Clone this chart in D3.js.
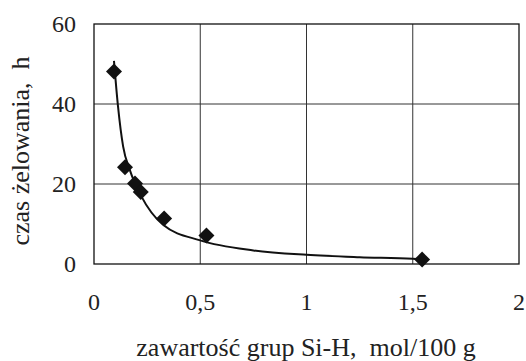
<!DOCTYPE html>
<html>
<head>
<meta charset="utf-8">
<script src="https://cdn.jsdelivr.net/npm/d3@7"></script>
<style>
  body { margin: 0; background: #fff; }
  text { fill: #222; white-space: pre; }
</style>
</head>
<body>
<script>
// punkty pomiarowe
var siH = [0.094, 0.146, 0.193, 0.22, 0.33, 0.529, 1.544];
var gelTime = [48.1, 24.2, 20.1, 18.0, 11.4, 7.1, 1.1];

// linia trendu
var trendX = [0.094, 0.113, 0.137, 0.168, 0.223, 0.325, 0.5, 0.75, 1.0, 1.25, 1.5, 1.544];
var trendY = [50.8, 39.4, 29.4, 23.6, 16.9, 9.8, 5.9, 3.4, 2.3, 1.7, 1.3, 1.1];

var xTicks = [0, 0.5, 1, 1.5, 2];
var yTicks = [0, 20, 40, 60];

var width = 526, height = 361;
var margin = {left: 94, right: 7, top: 24, bottom: 97};

var pl = d3.formatLocale({decimal: ",", thousands: " ", grouping: [3], currency: ["", " zł"]});
var fmt = pl.format("~g");

var xScale = d3.scaleLinear().domain([0, 2]).range([margin.left, width - margin.right]);
var yScale = d3.scaleLinear().domain([0, 60]).range([height - margin.bottom, margin.top]);

var svg = d3.select("body").append("svg")
    .attr("width", width)
    .attr("height", height)
    .attr("font-family", "'Liberation Serif', 'Times New Roman', serif");

// siatka
svg.append("g").selectAll("line.vg")
    .data(xTicks.slice(1, -1))
    .enter().append("line")
    .attr("x1", d => xScale(d)).attr("x2", d => xScale(d))
    .attr("y1", yScale(0)).attr("y2", yScale(60))
    .attr("stroke", "#333").attr("stroke-width", 1);

svg.append("g").selectAll("line.hg")
    .data(yTicks.slice(1, -1))
    .enter().append("line")
    .attr("x1", xScale(0)).attr("x2", xScale(2))
    .attr("y1", d => yScale(d)).attr("y2", d => yScale(d))
    .attr("stroke", "#333").attr("stroke-width", 1);

// ramka
svg.append("rect")
    .attr("x", xScale(0)).attr("y", yScale(60))
    .attr("width", xScale(2) - xScale(0))
    .attr("height", yScale(0) - yScale(60))
    .attr("fill", "none").attr("stroke", "#111").attr("stroke-width", 1.3);

// opisy osi
svg.append("g").selectAll("text")
    .data(yTicks)
    .enter().append("text")
    .attr("x", 76).attr("y", d => yScale(d))
    .attr("dy", "0.33em")
    .attr("text-anchor", "end")
    .style("font-size", "24px")
    .text(d => fmt(d));

svg.append("g").selectAll("text")
    .data(xTicks)
    .enter().append("text")
    .attr("x", d => xScale(d)).attr("y", 310)
    .attr("text-anchor", "middle")
    .style("font-size", "24px")
    .text(d => fmt(d));

svg.append("text")
    .attr("transform", "translate(29,151) rotate(-90)")
    .attr("text-anchor", "middle")
    .style("font-size", "26px")
    .text("czas żelowania,  h");

svg.append("text")
    .attr("x", 306).attr("y", 356)
    .attr("text-anchor", "middle")
    .style("font-size", "26px")
    .text("zawartość grup Si-H,  mol/100 g");

// linia trendu
var trend = trendX.map((x, i) => [x, trendY[i]]);
svg.append("path")
    .datum(trend)
    .attr("fill", "none")
    .attr("stroke", "#111")
    .attr("stroke-width", 2)
    .attr("d", d3.line()
        .x(d => xScale(d[0]))
        .y(d => yScale(d[1]))
        .curve(d3.curveMonotoneX));

// punkty
var diamond = d3.symbol().type(d3.symbolSquare).size(128);
svg.append("g").selectAll("path")
    .data(siH.map((x, i) => [x, gelTime[i]]))
    .enter().append("path")
    .attr("d", diamond)
    .attr("transform", d => "translate(" + xScale(d[0]) + "," + yScale(d[1]) + ") rotate(45)")
    .attr("fill", "#111");
</script>
</body>
</html>
